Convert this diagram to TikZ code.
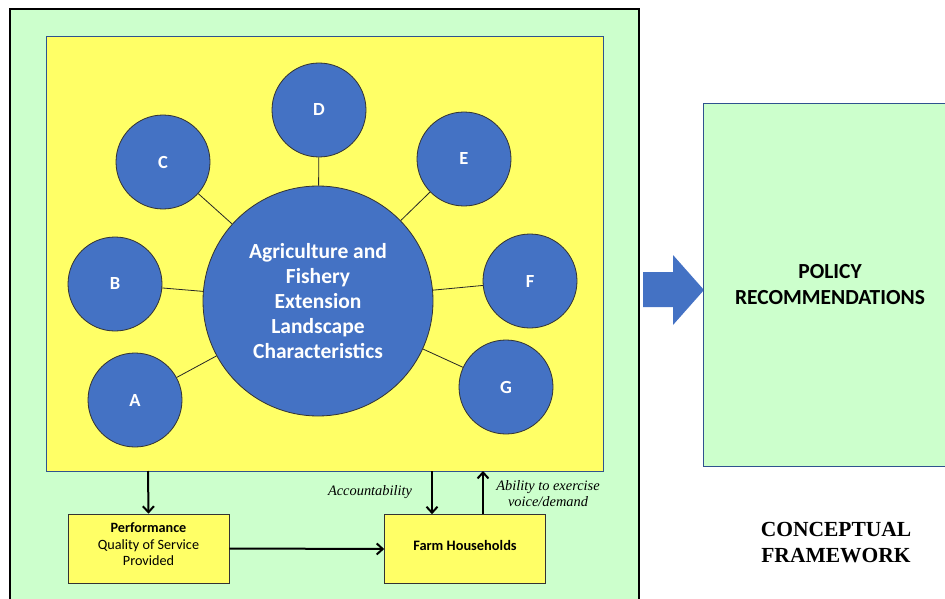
\documentclass[tikz,border=0pt]{standalone}
\usepackage{fontspec}
\setmainfont{Carlito}
\newfontfamily\timesf{Liberation Serif}
\usetikzlibrary{arrows.meta}
\definecolor{lgreen}{HTML}{CCFFCC}
\definecolor{lyellow}{HTML}{FFFF66}
\definecolor{cblue}{HTML}{4472C4}
\definecolor{bblue}{HTML}{2F528F}
\tikzset{
  small/.style={circle, fill=cblue, draw=black!80, line width=0.8pt, minimum size=94pt, inner sep=0pt,
    text=white, font=\fontsize{18.5}{20}\selectfont\bfseries},
  big/.style={circle, fill=cblue, draw=black!80, line width=0.8pt, minimum size=230pt, inner sep=0pt,
    text=white, align=center, font=\fontsize{21.5}{25}\selectfont\bfseries},
  spoke/.style={line width=0.8pt, black!85},
  ybox/.style={draw=black!80, fill=lyellow, line width=0.6pt, minimum width=161pt, minimum height=69pt,
    align=center, font=\fontsize{14.2}{16.5}\selectfont},
  arr/.style={-{Straight Barb[length=6pt,width=11pt]}, line width=2pt},
  lab/.style={font=\timesf\itshape\fontsize{14.4}{17}\selectfont, align=center}
}
\begin{document}
\begin{tikzpicture}[x=1pt,y=-1pt]
\useasboundingbox (0,0) rectangle (945,599);
% outer green frame
\draw[fill=lgreen, line width=1.2pt] (10,9) rectangle (639,610);
% yellow panel
\draw[fill=lyellow, draw=bblue, line width=0.8pt] (46,36) rectangle (603,471);
\coordinate (ybot1) at (148,471);
\coordinate (ybot2) at (432,471);
\coordinate (ybot3) at (483,471);
% circles
\node[big] (M) at (318,301) {Agriculture and\\Fishery\\Extension\\Landscape\\Characteristics};
\node[small] (D) at (319,110) {D};
\node[small] (C) at (163,162) {C};
\node[small] (E) at (464,159) {E};
\node[small] (B) at (115,284) {B};
\node[small] (F) at (530,281) {F};
\node[small] (A) at (135,400) {A};
\node[small] (G) at (506,387) {G};
\foreach \n in {A,B,C,D,E,F,G} \draw[spoke] (\n) -- (M);
% bottom boxes
\node[ybox] (P) at (148.5,548.5) {\textbf{Performance}\\Quality of Service\\Provided\\[-8pt]\mbox{}};
\node[ybox, font=\fontsize{14.4}{16}\selectfont\bfseries] (H) at (465,549) {Farm Households\\[-9pt]\mbox{}};
\draw[arr] (ybot1) -- (P.north);
\draw[arr] (P.east) -- (H.west);
\draw[arr] (ybot2) -- (ybot2 |- H.north);
\draw[arr] (ybot3 |- H.north) -- (ybot3);
\node[lab] (acc) at (370,492) {Accountability};
\node[lab] (abl) at (548,494) {Ability to exercise\\[-1pt]voice/demand};
% block arrow
\fill[cblue] (643,272) -- (673,272) -- (673,255) -- (704,290) -- (673,325) -- (673,307) -- (643,307) -- cycle;
% policy box
\draw[fill=lgreen, draw=bblue, line width=0.8pt] (703,103) rectangle (960,466);
\node[font=\fontsize{21.5}{26}\selectfont\bfseries, align=center] (pol) at (830,285) {POLICY\\RECOMMENDATIONS};
% title
\node[font=\timesf\bfseries\fontsize{21.5}{26}\selectfont, align=center] (cf) at (836,543) {CONCEPTUAL\\FRAMEWORK};
\end{tikzpicture}
\end{document}
